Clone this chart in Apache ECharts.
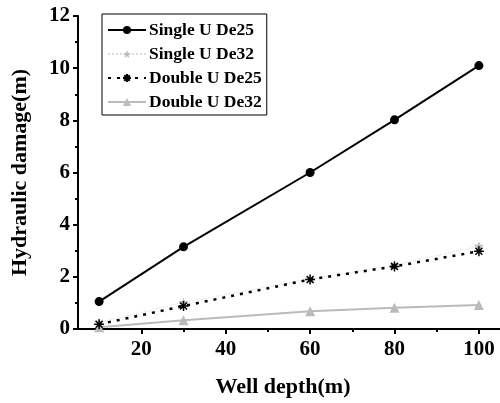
<!DOCTYPE html>
<html><head><meta charset="utf-8">
<script src="https://cdn.jsdelivr.net/npm/echarts@6/dist/echarts.min.js"></script>
<style>html,body{margin:0;padding:0;background:#fff}#c{width:500px;height:403px}</style>
</head><body><div id="c"></div>
<script>
var depths = [10, 30, 60, 80, 100];
var singleDe25 = [1.05, 3.15, 6.0, 8.02, 10.1];
var singleDe32 = [0.25, 1.02, 1.92, 2.45, 3.18];
var doubleDe25 = [0.18, 0.88, 1.9, 2.4, 2.98];
var doubleDe32 = [0.07, 0.34, 0.68, 0.81, 0.92];
var seriesNames = ['Single U De25', 'Single U De32', 'Double U De25', 'Double U De32'];
var xMajorTicks = [20, 40, 60, 80, 100];
var xMinorTicks = [10, 30, 50, 70, 90];

function pairs(vals){ return depths.map(function(d,i){ return [d, vals[i]]; }); }
var font = '"Liberation Serif","Times New Roman",serif';
var asterisk = 'path://M0,5L10,5M5,0L5,10M1.5,1.5L8.5,8.5M8.5,1.5L1.5,8.5';

var chart = echarts.init(document.getElementById('c'));
chart.setOption({
  animation: false,
  grid: {left: 78, top: 16, right: 0, bottom: 73, containLabel: false},
  legend: {
    orient: 'vertical', left: 102, top: 14,
    borderColor: '#000', borderWidth: 1, padding: [7, 5, 4, 5],
    itemWidth: 38, itemHeight: 10, itemGap: 6,
    textStyle: {fontFamily: font, fontWeight: 'bold', fontSize: 17.5, color: '#000', padding: [0,0,0,-2]},
    data: seriesNames
  },
  xAxis: [{
    type: 'value', min: 5, max: 105,
    axisLine: {lineStyle: {color: '#000', width: 2}},
    axisTick: {show: true, length: 5, lineStyle: {width: 2, color: '#000'}, customValues: xMajorTicks},
    axisLabel: {customValues: xMajorTicks, fontFamily: font, fontWeight: 'bold', fontSize: 21, color: '#000', margin: 10},
    splitLine: {show: false},
    name: 'Well depth(m)', nameLocation: 'middle', nameGap: 47,
    nameTextStyle: {fontFamily: font, fontWeight: 'bold', fontSize: 22, color: '#000', padding: [0, 12, 0, 0]}
  }, {
    type: 'value', min: 5, max: 105, position: 'bottom',
    axisLine: {show: false},
    axisTick: {show: true, length: 3, lineStyle: {width: 2, color: '#000'}, customValues: xMinorTicks},
    axisLabel: {show: false},
    splitLine: {show: false}
  }],
  yAxis: {
    type: 'value', min: 0, max: 12, interval: 2,
    axisLine: {show: true, lineStyle: {color: '#000', width: 2}},
    axisTick: {show: true, length: 5, lineStyle: {width: 2, color: '#000'}},
    minorTick: {show: true, splitNumber: 2, length: 3, lineStyle: {width: 2, color: '#000'}},
    axisLabel: {fontFamily: font, fontWeight: 'bold', fontSize: 21, color: '#000', margin: 8},
    splitLine: {show: false},
    name: 'Hydraulic damage(m)', nameLocation: 'middle', nameGap: 47, nameRotate: 90,
    nameTextStyle: {fontFamily: font, fontWeight: 'bold', fontSize: 22, color: '#000'}
  },
  series: [
    {name: seriesNames[0], type: 'line', data: pairs(singleDe25), symbol: 'circle', symbolSize: 9,
     itemStyle: {color: '#000'}, lineStyle: {color: '#000', width: 2}, z: 4},
    {name: seriesNames[1], type: 'line', data: pairs(singleDe32), symbol: 'path://M5,0L6.2,3.6L10,3.6L6.9,5.9L8.1,9.5L5,7.3L1.9,9.5L3.1,5.9L0,3.6L3.8,3.6Z', symbolSize: 10,
     itemStyle: {color: '#bbb'}, lineStyle: {color: '#ddd', width: 1, type: 'dotted'}, z: 2},
    {name: seriesNames[2], type: 'line', data: pairs(doubleDe25), symbol: asterisk, symbolSize: 10,
     itemStyle: {color: '#000', borderColor: '#000', borderWidth: 1.5}, lineStyle: {color: '#000', width: 2.5, type: [3, 6]}, z: 3},
    {name: seriesNames[3], type: 'line', data: pairs(doubleDe32), symbol: 'triangle', symbolSize: 10,
     itemStyle: {color: '#bbb'}, lineStyle: {color: '#bbb', width: 2}, z: 2}
  ]
});
</script></body></html>
